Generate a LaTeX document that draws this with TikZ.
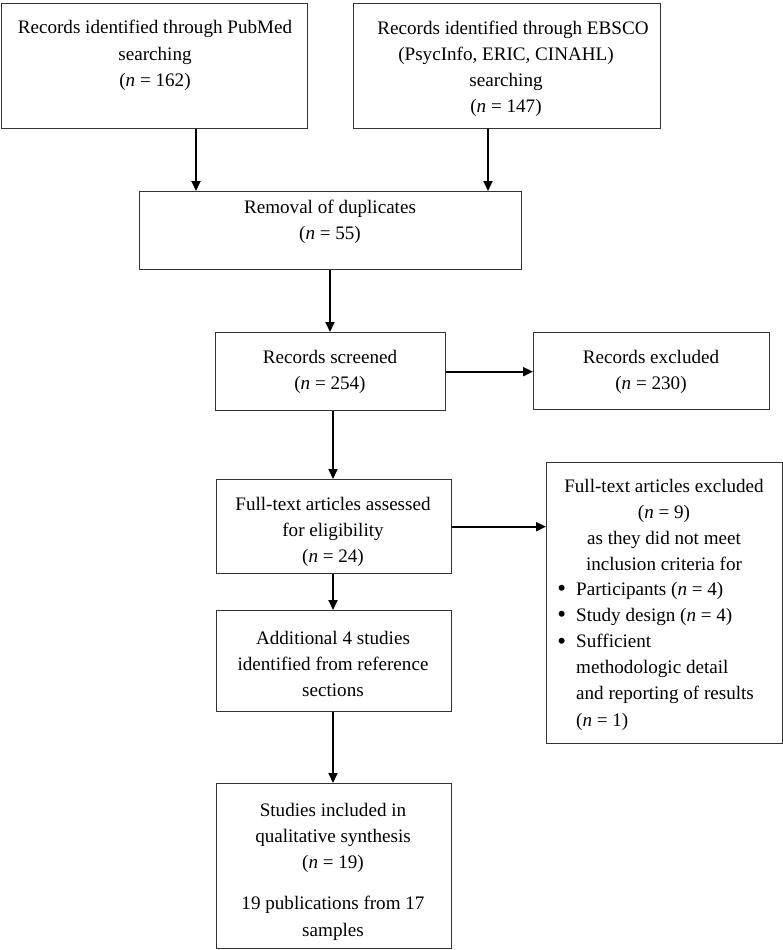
\documentclass[tikz,border=0pt]{standalone}
\usepackage{fontspec}
\setmainfont{Liberation Serif}
\usetikzlibrary{arrows.meta}
\newcommand\diafont{\fontsize{19.1}{26.2}\selectfont}
\newcommand\bul{\llap{\raisebox{-1.5pt}{\fontsize{25}{0}\selectfont •}\hspace{10pt}}}
\begin{document}
\begin{tikzpicture}[x=1pt,y=-1pt,
  box/.style={draw=black!80, line width=1.4pt, rectangle, inner sep=0pt, anchor=north west},
  txt/.style={align=center, inner sep=0pt, font=\diafont},
  lst/.style={align=left, inner sep=0pt, font=\diafont, anchor=west},
  arr/.style={-{Triangle[length=10pt,width=9pt]}, line width=1.9pt}]
\useasboundingbox (0,0) rectangle (783,950);
% boxes
\node[box, minimum width=306pt, minimum height=125pt] (b1) at (1,3) {};
\node[box, minimum width=307pt, minimum height=125pt] (b2) at (353,3) {};
\node[box, minimum width=382pt, minimum height=78pt] (dup) at (139,191) {};
\node[box, minimum width=230pt, minimum height=78pt] (scr) at (215,332) {};
\node[box, minimum width=236pt, minimum height=77pt] (exc) at (533,332) {};
\node[box, minimum width=235pt, minimum height=94pt] (full) at (216,479) {};
\node[box, minimum width=236pt, minimum height=281pt] (ftx) at (546,462) {};
\node[box, minimum width=235pt, minimum height=101pt] (add) at (216,610) {};
\node[box, minimum width=235pt, minimum height=165pt] (inc) at (216,783) {};
% texts
\node[txt] (t1) at (155,55.5) {Records identified through PubMed\\searching\\(\textit{n} = 162)};
\node[txt] (t2) at (506,69) {\hspace*{14pt}Records identified through EBSCO\\(PsycInfo, ERIC, CINAHL)\\searching\\(\textit{n} = 147)};
\node[txt] (t3) at (330,222) {Removal of duplicates\\(\textit{n} = 55)};
\node[txt] (t4) at (330,372) {Records screened\\(\textit{n} = 254)};
\node[txt] (t5) at (651,372) {Records excluded\\(\textit{n} = 230)};
\node[txt] (t6) at (333,532) {Full-text articles assessed\\for eligibility\\(\textit{n} = 24)};
\node[txt] (t7) at (664,525) {Full-text articles excluded\\(\textit{n} = 9)\\as they did not meet\\inclusion criteria for};
\node[lst] (t8) at (576,656) {\bul Participants (\textit{n} = 4)\\\bul Study design (\textit{n} = 4)\\\bul Sufficient\\methodologic detail\\and reporting of results\\(\textit{n} = 1)};
\node[txt] (t9) at (333,664) {Additional 4 studies\\identified from reference\\sections};
\node[txt] (t10) at (333,871.5) {Studies included in\\qualitative synthesis\\(\textit{n} = 19)\\[15pt]19 publications from 17\\samples};
% arrow columns
\coordinate (c1) at (196,0);
\coordinate (c2) at (488,0);
\coordinate (c3) at (330,0);
\coordinate (c4) at (333,0);
\draw[arr] (b1.south -| c1) -- (dup.north -| c1);
\draw[arr] (b2.south -| c2) -- (dup.north -| c2);
\draw[arr] (dup.south -| c3) -- (scr.north -| c3);
\draw[arr] (scr.east) -- (scr.east -| exc.west);
\draw[arr] (scr.south -| c4) -- (full.north -| c4);
\draw[arr] (full.east) -- (full.east -| ftx.west);
\draw[arr] (full.south -| c4) -- (add.north -| c4);
\draw[arr] (add.south -| c4) -- (inc.north -| c4);
\end{tikzpicture}
\end{document}
